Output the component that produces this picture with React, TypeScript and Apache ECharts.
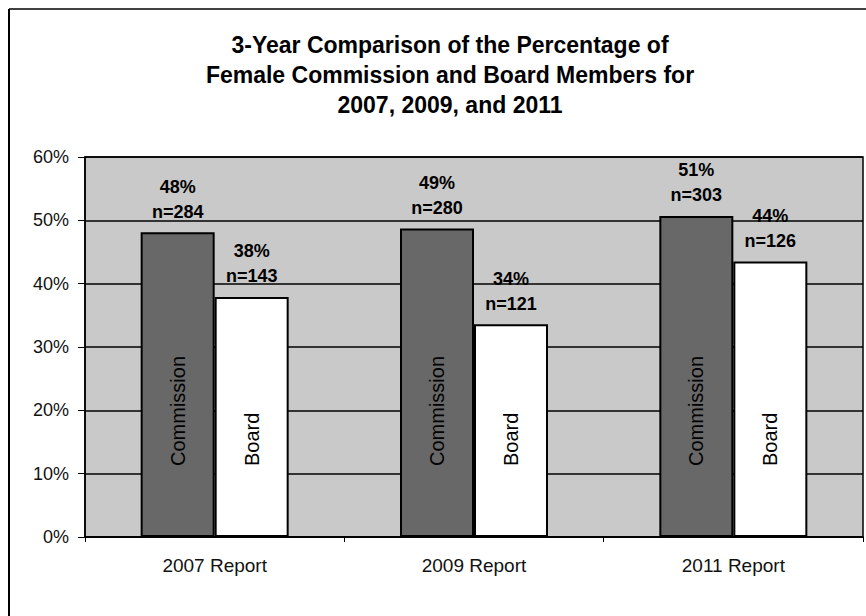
import React, { useEffect, useRef } from "react";
import * as echarts from "echarts";

const categories = ["2007 Report", "2009 Report", "2011 Report"];
const commissionValues = [48.1, 48.7, 50.7];
const boardValues = [37.9, 33.6, 43.5];
const commissionPct = [48, 49, 51];
const boardPct = [38, 34, 44];
const commissionN = [284, 280, 303];
const boardN = [143, 121, 126];
const yTicks = { min: 0, max: 60, interval: 10 };
const titleLines = [
  "3-Year Comparison of the Percentage of",
  "Female Commission and Board Members for",
  "2007, 2009, and 2011",
];

const FONT = "'Liberation Sans', Arial, Helvetica, sans-serif";

export default function App() {
  const ref = useRef<HTMLDivElement>(null);
  useEffect(() => {
    if (!ref.current) return;
    const chart = echarts.init(ref.current, undefined, { renderer: "svg" });
    const barW = 74;
    const insideLabel = (name: string) => ({
      show: true,
      position: "insideBottom",
      distance: 71,
      rotate: 90,
      align: "left",
      verticalAlign: "middle",
      formatter: name,
      fontSize: 20,
      fontFamily: FONT,
      color: "#000",
    });
    const topLabel = (pct: number[], n: number[]) => ({
      show: true,
      position: "top",
      distance: 8,
      fontSize: 18,
      fontWeight: "bold",
      lineHeight: 25,
      fontFamily: FONT,
      color: "#000",
      formatter: (p: any) => `${pct[p.dataIndex]}%\nn=${n[p.dataIndex]}`,
    });
    chart.setOption({
      animation: false,
      backgroundColor: "#ffffff",
      title: {
        text: titleLines.join("\n"),
        left: 445,
        top: 25,
        textAlign: "center",
        textStyle: {
          fontSize: 23,
          fontWeight: "bold",
          lineHeight: 30,
          fontFamily: FONT,
          color: "#000",
        },
      },
      grid: {
        left: 85,
        right: 3,
        top: 157,
        bottom: 79,
        show: true,
        backgroundColor: "#c9c9c9",
        borderColor: "#000",
        borderWidth: 1.5,
      },
      xAxis: [
        {
          type: "category",
          data: categories,
          axisLine: { lineStyle: { color: "#000", width: 1.5 } },
          axisTick: { show: true, length: 5, lineStyle: { color: "#000" } },
          axisLabel: { fontSize: 19, margin: 19, color: "#111", fontFamily: FONT },
        },
        {
          type: "category",
          data: categories,
          show: false,
        },
      ],
      yAxis: {
        type: "value",
        min: yTicks.min,
        max: yTicks.max,
        interval: yTicks.interval,
        axisLine: { show: true, lineStyle: { color: "#000", width: 1.5 } },
        axisTick: { show: true, length: 7, lineStyle: { color: "#000" } },
        axisLabel: {
          formatter: "{value}%",
          fontSize: 18,
          margin: 16,
          color: "#111",
          fontFamily: FONT,
        },
        splitLine: { show: true, lineStyle: { color: "#000", width: 1.5 } },
      },
      series: [
        {
          name: "Commission",
          type: "bar",
          data: commissionValues,
          barWidth: barW,
          barGap: "0%",
          itemStyle: { color: "#686868", borderColor: "#000", borderWidth: 2 },
          label: insideLabel("Commission"),
        },
        {
          name: "Board",
          type: "bar",
          data: boardValues,
          barWidth: barW,
          barGap: "0%",
          itemStyle: { color: "#ffffff", borderColor: "#000", borderWidth: 2 },
          label: insideLabel("Board"),
        },
        {
          name: "CommissionTop",
          type: "bar",
          xAxisIndex: 1,
          data: commissionValues,
          barWidth: barW,
          barGap: "0%",
          silent: true,
          itemStyle: { color: "rgba(0,0,0,0)" },
          label: topLabel(commissionPct, commissionN),
        },
        {
          name: "BoardTop",
          type: "bar",
          xAxisIndex: 1,
          data: boardValues,
          barWidth: barW,
          barGap: "0%",
          silent: true,
          itemStyle: { color: "rgba(0,0,0,0)" },
          label: topLabel(boardPct, boardN),
        },
      ],
      graphic: [
        {
          type: "line",
          shape: { x1: 9, y1: 9, x2: 866, y2: 9 },
          style: { stroke: "#000", lineWidth: 1.5 },
        },
        {
          type: "line",
          shape: { x1: 9, y1: 9, x2: 9, y2: 616 },
          style: { stroke: "#000", lineWidth: 2 },
        },
      ],
    });
    return () => chart.dispose();
  }, []);
  return (
    <div
      ref={ref}
      style={{ position: "fixed", left: 0, top: 0, width: 866, height: 616 }}
    />
  );
}
